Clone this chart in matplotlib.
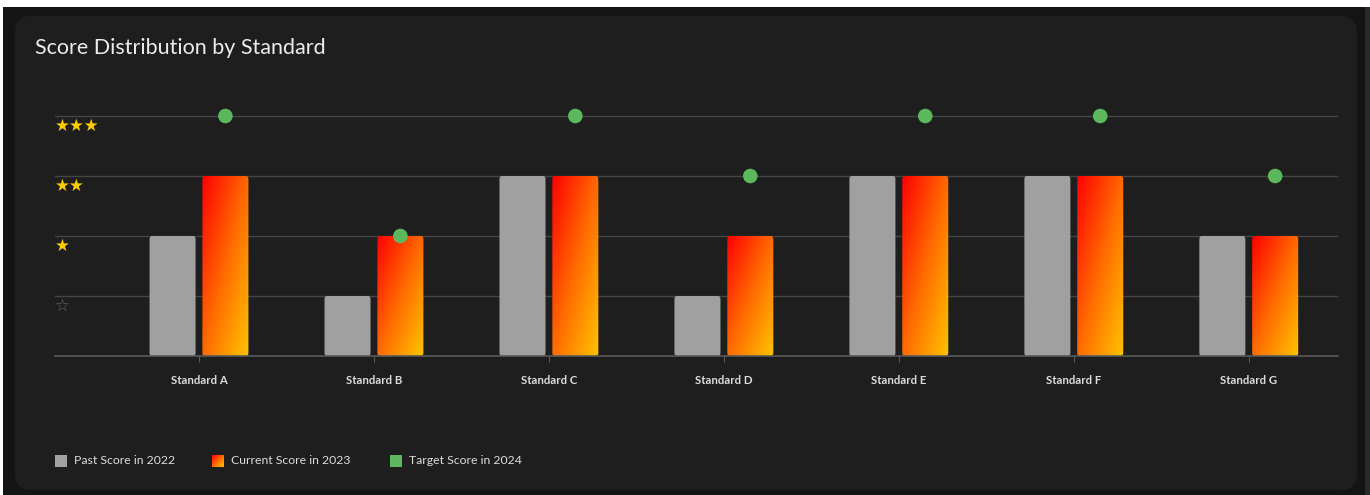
import matplotlib.pyplot as plt
import numpy as np
from matplotlib.patches import FancyBboxPatch, Rectangle
from matplotlib.colors import LinearSegmentedColormap

standards = ["Standard A", "Standard B", "Standard C", "Standard D",
             "Standard E", "Standard F", "Standard G"]
past_2022 = [2, 1, 3, 1, 3, 3, 2]
current_2023 = [3, 2, 3, 2, 3, 3, 2]
target_2024 = [4, 2, 4, 3, 4, 4, 3]
level_ticks = [1, 2, 3, 4]
level_labels = ["☆", "★", "★★", "★★★"]

W, H = 1370, 495
fig = plt.figure(figsize=(W / 100, H / 100), dpi=100)
fig.patch.set_facecolor('#ffffff')

# outer dark frame and rounded card
fig.patches.append(Rectangle((3 / W, 0), 1362 / W, 1 - 7 / H, transform=fig.transFigure,
                             facecolor='#141414', edgecolor='none', zorder=-3))
fig.patches.append(Rectangle((1365 / W, 0), 5 / W, 1 - 7 / H, transform=fig.transFigure,
                             facecolor='#2a2a2a', edgecolor='none', zorder=-3))
card = FancyBboxPatch((15 / W, 5 / H), 1342 / W, (H - 16 - 5) / H,
                      boxstyle="round,pad=0,rounding_size=0.012",
                      transform=fig.transFigure, facecolor='#1e1e1e',
                      edgecolor='none', zorder=-2, mutation_aspect=W / H)
fig.patches.append(card)

fig.text(35 / W, 1 - 48 / H, "Score Distribution by Standard", color='#ececec',
         fontsize=15.5, family='Lato', va='center', ha='left')

ax = fig.add_axes([55 / W, 1 - 356 / H, (1338 - 55) / W, (356 - 86) / H])
ax.set_facecolor('none')
x = np.arange(len(standards))
ax.set_xlim(-0.823, 6.51)
ax.set_ylim(0, 4.5)

for s in ['top', 'right', 'left']:
    ax.spines[s].set_visible(False)
ax.spines['bottom'].set_color('#5a5a5a')
ax.spines['bottom'].set_linewidth(1.2)

ax.set_yticks(level_ticks)
ax.set_yticklabels([])
for lvl, lab in zip(level_ticks, level_labels):
    col = '#666666' if lab == "☆" else '#ffcc00'
    ax.text(0.0, lvl - 0.02, lab, transform=ax.get_yaxis_transform(), color=col,
            fontsize=12, family='DejaVu Sans', ha='left', va='top')
ax.tick_params(axis='y', length=0)
ax.grid(axis='y', color='#454545', linewidth=1)
ax.set_axisbelow(True)

ax.set_xticks(x)
ax.set_xticklabels(standards, color='#dddddd', fontsize=8.2, family='Lato',
                   fontweight='bold')
ax.tick_params(axis='x', length=4, color='#5a5a5a', pad=10)

bw = 0.263
off = 0.151
cmap = LinearSegmentedColormap.from_list('heat', ['#ff0000', '#ff6a00', '#ffc400'])
grad = np.add.outer(np.linspace(0, 1, 100), np.linspace(0, 1, 100)) / 2

for i in range(len(standards)):
    gb = FancyBboxPatch((x[i] - off - bw / 2, 0), bw, past_2022[i],
                        boxstyle="round,pad=0,rounding_size=0.012",
                        mutation_aspect=4.5,
                        facecolor='#a0a0a0', edgecolor='none', zorder=2)
    ax.add_patch(gb)
    cb = FancyBboxPatch((x[i] + off - bw / 2, 0), bw, current_2023[i],
                        boxstyle="round,pad=0,rounding_size=0.012",
                        mutation_aspect=4.5,
                        facecolor='none', edgecolor='none', zorder=2)
    ax.add_patch(cb)
    im = ax.imshow(grad, cmap=cmap, aspect='auto', origin='upper', zorder=2,
                   extent=[x[i] + off - bw / 2, x[i] + off + bw / 2, 0, current_2023[i]])
    im.set_clip_path(cb)

ax.scatter(x + off, target_2024, s=110, color='#5cb85c', zorder=4, edgecolors='none',
           clip_on=False)

# legend
ly = 1 - 461 / H
sq = 12
fig.patches.append(Rectangle((55 / W, ly - sq / 2 / H), sq / W, sq / H,
                             transform=fig.transFigure, facecolor='#a0a0a0',
                             edgecolor='none', zorder=3))
fig.text(74 / W, ly, "Past Score in 2022", color='#dddddd', fontsize=8.8,
         family='Lato', va='center')
lax = fig.add_axes([212 / W, ly - sq / 2 / H, sq / W, sq / H])
lax.imshow(grad, cmap=cmap, aspect='auto', extent=[0, 1, 0, 1])
lax.axis('off')
fig.text(231 / W, ly, "Current Score in 2023", color='#dddddd', fontsize=8.8,
         family='Lato', va='center')
fig.patches.append(Rectangle((390 / W, ly - sq / 2 / H), sq / W, sq / H,
                             transform=fig.transFigure, facecolor='#5cb85c',
                             edgecolor='none', zorder=3))
fig.text(409 / W, ly, "Target Score in 2024", color='#dddddd', fontsize=8.8,
         family='Lato', va='center')

fig.savefig('out.png', dpi=100, facecolor=fig.get_facecolor())
